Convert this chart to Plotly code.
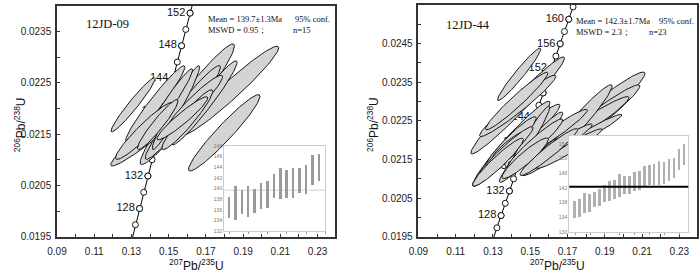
import numpy as np
import plotly.graph_objects as go

# ---------------- data ----------------
L238 = 1.55125e-10
L235 = 9.8485e-10
curve_ages = list(np.arange(100, 171, 0.5))
a_ages = list(range(126, 154, 2))
b_ages = list(range(126, 164, 2))

# 12JD-09 ellipses: 207Pb/235U, 2s, 206Pb/238U, 2s, rho
a_x   = [0.16, 0.18302, 0.14175, 0.15762, 0.16926, 0.17984, 0.1428, 0.15392, 0.16397, 0.16, 0.15074, 0.15735, 0.13698, 0.14413, 0.1309]
a_sx  = [0.02534, 0.02613, 0.0229, 0.0202, 0.01751, 0.0192, 0.01592, 0.0127, 0.01502, 0.01365, 0.01211, 0.01365, 0.01555, 0.0109, 0.01185]
a_y   = [0.022085, 0.022349, 0.021557, 0.021925, 0.022113, 0.021528, 0.022094, 0.022019, 0.022113, 0.021783, 0.022132, 0.021811, 0.021566, 0.021689, 0.022075]
a_sy  = [0.001174, 0.000866, 0.000674, 0.000913, 0.000817, 0.000743, 0.00074, 0.000817, 0.000536, 0.000583, 0.000643, 0.000419, 0.000555, 0.000487, 0.000528]
a_rho = [0.965, 0.965, 0.965, 0.965, 0.965, 0.955, 0.965, 0.965, 0.945, 0.945, 0.965, 0.945, 0.945, 0.945, 0.965]

# 12JD-44 ellipses
b_x   = [0.17847, 0.17979, 0.1782, 0.17503, 0.18296, 0.1618, 0.16577, 0.17106, 0.15995, 0.14328, 0.14328, 0.14275, 0.14381, 0.13984, 0.15042, 0.1491, 0.15254, 0.13958, 0.13852, 0.14725, 0.13667, 0.1327, 0.14407]
b_sx  = [0.03306, 0.02904, 0.02481, 0.01889, 0.01619, 0.01889, 0.01751, 0.01751, 0.01545, 0.02513, 0.02048, 0.01672, 0.02212, 0.02074, 0.01698, 0.01132, 0.01487, 0.01365, 0.00884, 0.01243, 0.01487, 0.01365, 0.01159]
b_y   = [0.022425, 0.02235, 0.022337, 0.022412, 0.022224, 0.022161, 0.021873, 0.021785, 0.021697, 0.022902, 0.02289, 0.023015, 0.021973, 0.02191, 0.021822, 0.022011, 0.02191, 0.021948, 0.021873, 0.021534, 0.021684, 0.021433, 0.023705]
b_sy  = [0.00134, 0.001084, 0.000793, 0.001024, 0.000447, 0.00064, 0.00055, 0.000512, 0.000605, 0.001255, 0.000793, 0.000743, 0.000959, 0.0011, 0.000909, 0.000871, 0.000643, 0.00066, 0.000354, 0.000525, 0.000668, 0.00062, 0.000678]
b_rho = [0.97, 0.97, 0.965, 0.965, 0.965, 0.965, 0.965, 0.965, 0.955, 0.975, 0.965, 0.965, 0.965, 0.965, 0.965, 0.965, 0.955, 0.945, 0.925, 0.925, 0.955, 0.945, 0.965]

# weighted-mean insets (Ma)
a_lo = [134.4, 134.1, 135.2, 134.7, 135.5, 136.25, 136.4, 138.3, 138.0, 138.3, 138.15, 139.2, 139.0, 140.6, 141.5]
a_hi = [138.4, 140.4, 139.7, 140.4, 139.9, 141.1, 141.4, 142.8, 143.9, 143.55, 143.8, 143.9, 144.5, 146.3, 146.5]
a_mean = 139.7
b_lo = [133.8, 134.2, 135.3, 135.5, 136.9, 137.3, 138.2, 138.4, 139.1, 139.7, 140.4, 140.4, 141.3, 141.5, 142.6, 142.85, 142.85, 143.0, 143.2, 143.9, 144.8, 147.0, 148.3]
b_hi = [138.4, 139.1, 140.6, 140.4, 141.0, 141.7, 143.0, 143.9, 144.3, 145.8, 145.2, 145.4, 146.4, 146.7, 148.1, 148.3, 148.5, 149.4, 149.2, 149.9, 150.2, 152.7, 154.0]
b_mean = 142.3

# ---------------- helpers ----------------
def conc(t):
    t = np.asarray(t, dtype=float) * 1e6
    return np.exp(L235 * t) - 1, np.exp(L238 * t) - 1

def ellipse(cx, sx, cy, sy, rho, n=140):
    th = np.linspace(0, 2 * np.pi, n)
    x = cx + sx * np.cos(th)
    y = cy + sy * (rho * np.cos(th) + np.sqrt(1 - rho ** 2) * np.sin(th))
    return x, y

fig = go.Figure()
SANS = "Liberation Sans"
SERIF = "Liberation Serif"
MK = dict(size=6, color="white", line=dict(color="black", width=0.9))

for xa, ya, ages, ex, esx, ey, esy, er in [("x", "y", a_ages, a_x, a_sx, a_y, a_sy, a_rho),
                                           ("x2", "y2", b_ages, b_x, b_sx, b_y, b_sy, b_rho)]:
    cx, cy = conc(curve_ages)
    fig.add_trace(go.Scatter(x=cx, y=cy, mode="lines", line=dict(color="black", width=1),
                             xaxis=xa, yaxis=ya, showlegend=False, hoverinfo="skip"))
    mx, my = conc(ages)
    fig.add_trace(go.Scatter(x=mx, y=my, mode="markers", marker=MK,
                             xaxis=xa, yaxis=ya, showlegend=False, hoverinfo="skip"))
    lab = [a for a in ages if a % 4 == 0]
    lx, ly = conc(lab)
    fig.add_trace(go.Scatter(x=lx, y=ly, mode="markers+text", text=[str(a) for a in lab],
                             textposition="middle left",
                             textfont=dict(family=SANS, size=11, color="#111"), marker=MK,
                             xaxis=xa, yaxis=ya, showlegend=False, hoverinfo="skip"))
    for i in range(len(ex)):
        px, py = ellipse(ex[i], esx[i], ey[i], esy[i], er[i])
        fig.add_trace(go.Scatter(x=px, y=py, mode="lines", fill="toself",
                                 fillcolor="#d4d4d4", line=dict(color="black", width=0.9),
                                 xaxis=xa, yaxis=ya, showlegend=False, hoverinfo="skip"))

# insets
fig.add_trace(go.Bar(x=list(range(1, len(a_lo) + 1)), y=[h - l for l, h in zip(a_lo, a_hi)], base=a_lo,
                     width=0.4, marker=dict(color="#9a9a9a", line=dict(width=0)),
                     xaxis="x3", yaxis="y3", showlegend=False, hoverinfo="skip"))
fig.add_trace(go.Bar(x=list(range(1, len(b_lo) + 1)), y=[h - l for l, h in zip(b_lo, b_hi)], base=b_lo,
                     width=0.4, marker=dict(color="#b0b0b0", line=dict(width=0)),
                     xaxis="x4", yaxis="y4", showlegend=False, hoverinfo="skip"))

A3X = [0.23, 16.0]
A3Y = [132, 148]
A4X = [-0.2, 23.8]
A4Y = [130, 156.2]
shapes = [
    dict(type="rect", xref="x3", yref="y3", x0=A3X[0], x1=A3X[1], y0=A3Y[0], y1=A3Y[1],
         fillcolor="white", line=dict(width=0), layer="below"),
    dict(type="line", xref="x3", yref="y3", x0=A3X[0], x1=A3X[1], y0=a_mean, y1=a_mean,
         line=dict(color="#cfcfcf", width=1), layer="below"),
    dict(type="rect", xref="x4", yref="y4", x0=A4X[0], x1=A4X[1], y0=A4Y[0], y1=A4Y[1],
         fillcolor="white", line=dict(width=0), layer="below"),
    dict(type="line", xref="x4", yref="y4", x0=A4X[0], x1=A4X[1], y0=b_mean, y1=b_mean,
         line=dict(color="black", width=2), layer="above"),
]

main_ax = dict(showline=True, mirror=True, linecolor="#333", linewidth=1.5, showgrid=False,
               zeroline=False, ticks="inside", ticklen=3, tickcolor="#333",
               tickfont=dict(family=SANS, size=10, color="#222"))
inset_ax = dict(showline=True, mirror=True, linecolor="#cccccc", linewidth=1, showgrid=False,
                zeroline=False, tickfont=dict(family=SANS, size=5, color="#777"))

fig.update_layout(
    width=700, height=274, margin=dict(l=0, r=0, t=0, b=0),
    paper_bgcolor="white", plot_bgcolor="white", bargap=0, showlegend=False,
    shapes=shapes,
    xaxis=dict(domain=[0.0681, 0.4714], range=[0.09, 0.2395], anchor="y", tick0=0.09, dtick=0.02,
               tickformat=".2f", ticklabelstandoff=4,
               minor=dict(dtick=0.01, ticks="inside", ticklen=3, tickcolor="#333"), **main_ax),
    yaxis=dict(domain=[0.1204, 0.9891], range=[0.0195, 0.0240], anchor="x", tick0=0.0195, dtick=0.001,
               tickformat=".4f", ticklabelstandoff=2,
               minor=dict(dtick=0.0005, ticks="inside", ticklen=3, tickcolor="#333"), **main_ax),
    xaxis2=dict(domain=[0.5919, 0.9957], range=[0.09, 0.2395], anchor="y2", tick0=0.09, dtick=0.02,
                tickformat=".2f", ticklabelstandoff=4,
                minor=dict(dtick=0.01, ticks="inside", ticklen=3, tickcolor="#333"), **main_ax),
    yaxis2=dict(domain=[0.1204, 0.9927], range=[0.0195, 0.0255], anchor="x2", tick0=0.0195, dtick=0.001,
                tickformat=".4f", ticklabelstandoff=2,
                minor=dict(dtick=0.0005, ticks="inside", ticklen=3, tickcolor="#333"), **main_ax),
    xaxis3=dict(domain=[0.3104, 0.4571], range=A3X, anchor="y3", showticklabels=False,
                ticks="outside", ticklen=2, tickcolor="#999", dtick=3, tick0=1, **inset_ax),
    yaxis3=dict(domain=[0.1423, 0.4624], range=A3Y, anchor="x3", dtick=2, tick0=132,
                ticks="", **inset_ax),
    xaxis4=dict(domain=[0.8104, 0.9833], range=A4X, anchor="y4", showticklabels=False,
                ticks="outside", ticklen=2, tickcolor="#999", dtick=3, tick0=1, **inset_ax),
    yaxis4=dict(domain=[0.1387, 0.5011], range=A4Y, anchor="x4", dtick=4, tick0=130,
                ticks="", **inset_ax),
)

ann = []
def txt(x, y, s, size, family=SERIF, xanchor="left", angle=0):
    ann.append(dict(x=x, y=y, xref="paper", yref="paper", text=s, showarrow=False,
                    xanchor=xanchor, yanchor="middle", textangle=angle,
                    font=dict(family=family, size=size, color="#111")))

txt(0.107, 0.9215, "12JD-09", 12.5)
txt(0.2843, 0.9416, "Mean = 139.7\u00b11.3Ma", 8.5)
txt(0.4095, 0.9416, "95% conf.", 8.5)
txt(0.2843, 0.8978, "MSWD = 0.95\uff1b", 8.5)
txt(0.4071, 0.8978, "n=15", 8.5)
txt(0.6286, 0.918, "12JD-44", 12.5)
txt(0.8167, 0.9325, "Mean = 142.3\u00b11.7Ma", 8.5)
txt(0.938, 0.9325, "95% conf.", 8.5)
txt(0.8167, 0.8905, "MSWD = 2.3\uff1b", 8.5)
txt(0.9238, 0.8905, "n=23", 8.5)
xt = "<sup>207</sup>Pb/<sup>235</sup>U"
yt = "<sup>206</sup>Pb/<sup>238</sup>U"
txt(0.27, 0.016, xt, 12, SANS, "center")
txt(0.794, 0.016, xt, 12, SANS, "center")
txt(0.0143, 0.544, yt, 12, SANS, "center", -90)
txt(0.527, 0.544, yt, 12, SANS, "center", -90)
fig.update_layout(annotations=ann)

fig.write_html("out.html", config={"displayModeBar": False},
               post_script="document.body.style.margin='0px';")
